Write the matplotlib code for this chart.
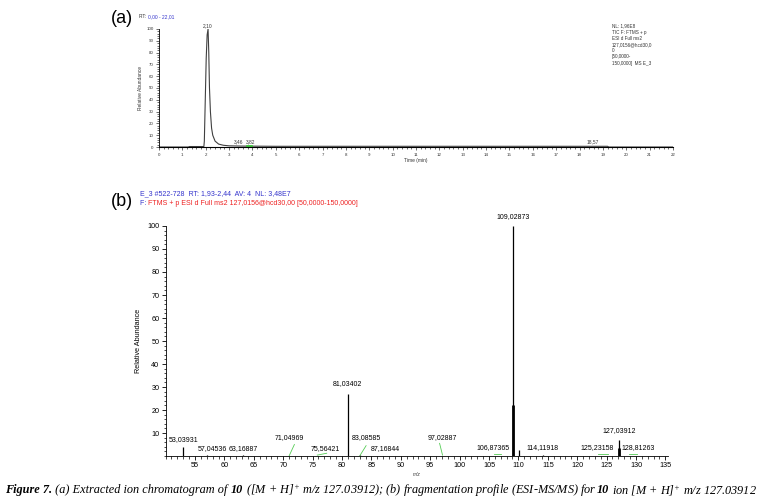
import matplotlib
matplotlib.use('Agg')
import matplotlib.pyplot as plt
from matplotlib.ticker import MultipleLocator

plt.rcParams['font.family'] = ['Liberation Sans', 'DejaVu Sans']
plt.rcParams['mathtext.fontset'] = 'custom'
plt.rcParams['mathtext.rm'] = 'Liberation Serif:italic'
plt.rcParams['mathtext.it'] = 'Liberation Serif:italic'

# (a) chromatogram trace
rt_time = [0.0, 1.25, 1.3, 1.92, 1.94, 1.98, 2.02, 2.06, 2.10, 2.13, 2.16, 2.20,
           2.25, 2.30, 2.40, 2.55, 2.75, 3.0, 3.5, 5.0, 11.3, 19.2, 19.25, 22.0]
rt_abund = [0, 0, 0.4, 0.4, 5, 40, 75, 95, 100, 80, 50, 30,
            16, 10, 5, 2.5, 1.5, 1.0, 0.8, 0.6, 0.6, 0.6, 0, 0]
rt_labels = ['2,10', '3,46', '3,82', '18,57']
rt_label_x = [2.10, 3.40, 3.94, 18.57]
rt_label_y = [101, 2.5, 2.5, 2.5]
nl_box = ['NL: 1,96E8', 'TIC F: FTMS + p', 'ESI d Full ms2', '127,0156@hcd30,0',
          '0', '[50,0000-', '150,0000]  MS E_3']

# (b) MS/MS spectrum peaks
mz = [53.039, 57.045, 63.169, 81.034, 83.086, 109.029, 110.05, 114.119, 127.039]
intensity = [4, 0.5, 0.4, 27, 0.5, 100, 2.6, 0.6, 7]
mz_wide = [109.04, 127.05]
intensity_wide = [22, 3.3]
peak_labels = ['53,03931', '57,04536', '63,16887', '71,04969', '75,56421', '81,03402',
               '83,08585', '87,16844', '97,02887', '106,87365', '109,02873',
               '114,11918', '125,23158', '127,03912', '128,81263']
label_x = [53.1, 58.0, 63.2, 71.1, 77.2, 81.0, 84.1, 87.3, 97.0, 105.7, 109.1,
           114.1, 123.4, 127.1, 130.3]
label_y = [5.6, 1.8, 1.8, 6.4, 1.8, 29.8, 6.4, 1.8, 6.4, 2.0, 102.5,
           2.0, 2.0, 9.4, 2.0]
# green leader lines (noise labels)
leaders = [((71.0, 71.9), (0, 5)), ((75.8, 77.4), (0.4, 1.2)), ((83.0, 84.1), (0, 4.5)),
           ((97.1, 96.6), (0.4, 5.5)), ((105.9, 107.0), (0.9, 0.9)),
           ((123.6, 125.2), (0.9, 0.9)), ((128.8, 130.2), (0.9, 0.9))]

fig = plt.figure(figsize=(7.59, 5.04), dpi=100)


def seq_text(x, y, pieces, size, **kw):
    # draw text pieces one after another
    r = fig.canvas.get_renderer()
    for s, c, w in pieces:
        t = fig.text(x, y, s, color=c, fontsize=size, va='center', weight=w, **kw)
        bb = t.get_window_extent(renderer=r)
        x += bb.width / fig.bbox.width


# ---- (a) chromatogram ----
ax1 = fig.add_axes([0.2095, 0.7083, 0.6772, 0.2342])
ax1.plot(rt_time, rt_abund, color='#404040', lw=0.8)
ax1.plot([3.75, 4.0], [1.0, 1.0], color='#33cc33', lw=1.2)
ax1.set_xlim(0, 22)
ax1.set_ylim(0, 100)
ax1.spines['top'].set_visible(False)
ax1.spines['right'].set_visible(False)
ax1.spines['left'].set_linewidth(0.6)
ax1.spines['bottom'].set_linewidth(0.8)
ax1.xaxis.set_major_locator(MultipleLocator(1))
ax1.xaxis.set_minor_locator(MultipleLocator(0.2))
ax1.yaxis.set_major_locator(MultipleLocator(10))
ax1.yaxis.set_minor_locator(MultipleLocator(2))
ax1.tick_params(which='major', length=2.5, width=0.5, labelsize=3.2, pad=1.5, colors='#333333')
ax1.tick_params(which='minor', length=1.5, width=0.4)
for s, x, y in zip(rt_labels, rt_label_x, rt_label_y):
    ax1.text(x, y, s, ha='center', va='bottom', fontsize=3.5, color='#333333')
ax1.set_xlabel('Time (min)', fontsize=3.5, labelpad=1, color='#333333')
ax1.set_ylabel('Relative Abundance', fontsize=3.5, labelpad=2, color='#333333')
for i, s in enumerate(nl_box):
    fig.text(0.806, 0.948 - i * 0.0122, s, fontsize=3.3, color='#333333', va='center')

fig.text(0.146, 0.963, '(a)', fontsize=13, va='center')
seq_text(0.183, 0.967, [('RT: ', '#333333', 'normal'), ('0,00 - 22,01', '#3333cc', 'normal')], 3.5)

# ---- (b) spectrum ----
ax2 = fig.add_axes([0.2182, 0.0952, 0.6623, 0.4564])
ax2.vlines(mz, 0, intensity, color='black', lw=0.9)
ax2.vlines(mz_wide, 0, intensity_wide, color='black', lw=2.0)
for (xs, ys) in leaders:
    ax2.plot(xs, ys, color='#55cc55', lw=0.6)
for s, x, y in zip(peak_labels, label_x, label_y):
    ax2.text(x, y, s, ha='center', va='bottom', fontsize=5.0)
ax2.set_xlim(50, 135.5)
ax2.set_ylim(0, 100)
ax2.spines['top'].set_visible(False)
ax2.spines['right'].set_visible(False)
ax2.spines['left'].set_linewidth(0.6)
ax2.spines['bottom'].set_linewidth(0.6)
ax2.set_xticks(range(55, 136, 5))
ax2.xaxis.set_minor_locator(MultipleLocator(1))
ax2.set_yticks(range(10, 101, 10))
ax2.yaxis.set_minor_locator(MultipleLocator(2))
ax2.tick_params(which='major', length=3, width=0.6, labelsize=5.2, pad=1.5)
ax2.tick_params(which='minor', length=1.8, width=0.5)
ax2.set_xlabel('m/z', fontsize=3.5, style='italic', labelpad=2, color='#333333')
ax2.set_ylabel('Relative Abundance', fontsize=5.2, labelpad=4)

fig.text(0.146, 0.6, '(b)', fontsize=13, va='center')
seq_text(0.184, 0.615, [('E_3 #522-728  RT: 1,93-2,44  AV: 4  NL: 3,48E7', '#3333cc', 'normal')], 5)
seq_text(0.184, 0.597, [('F: ', '#3333cc', 'normal'),
                        ('FTMS + p ESI d Full ms2 127,0156@hcd30,00 [50,0000-150,0000]', '#ee2222', 'normal')], 5)

# ---- caption ----
cap = [('Figure 7.', 'bold'), (' (a) Extracted ion chromatogram of ', 'normal'), ('10', 'bold'),
       (' ([M + H]$^{+}$ m/z 127.03912); (b) fragmentation profile (ESI-MS/MS) for ', 'normal'),
       ('10', 'bold'), (' ion [M + H]$^{+}$ m/z 127.03912', 'normal')]
seq_text(0.007, 0.027, [(s, 'black', w) for s, w in cap], 8.8,
         family='Liberation Serif', style='italic')

fig.savefig('out.png', dpi=100)
